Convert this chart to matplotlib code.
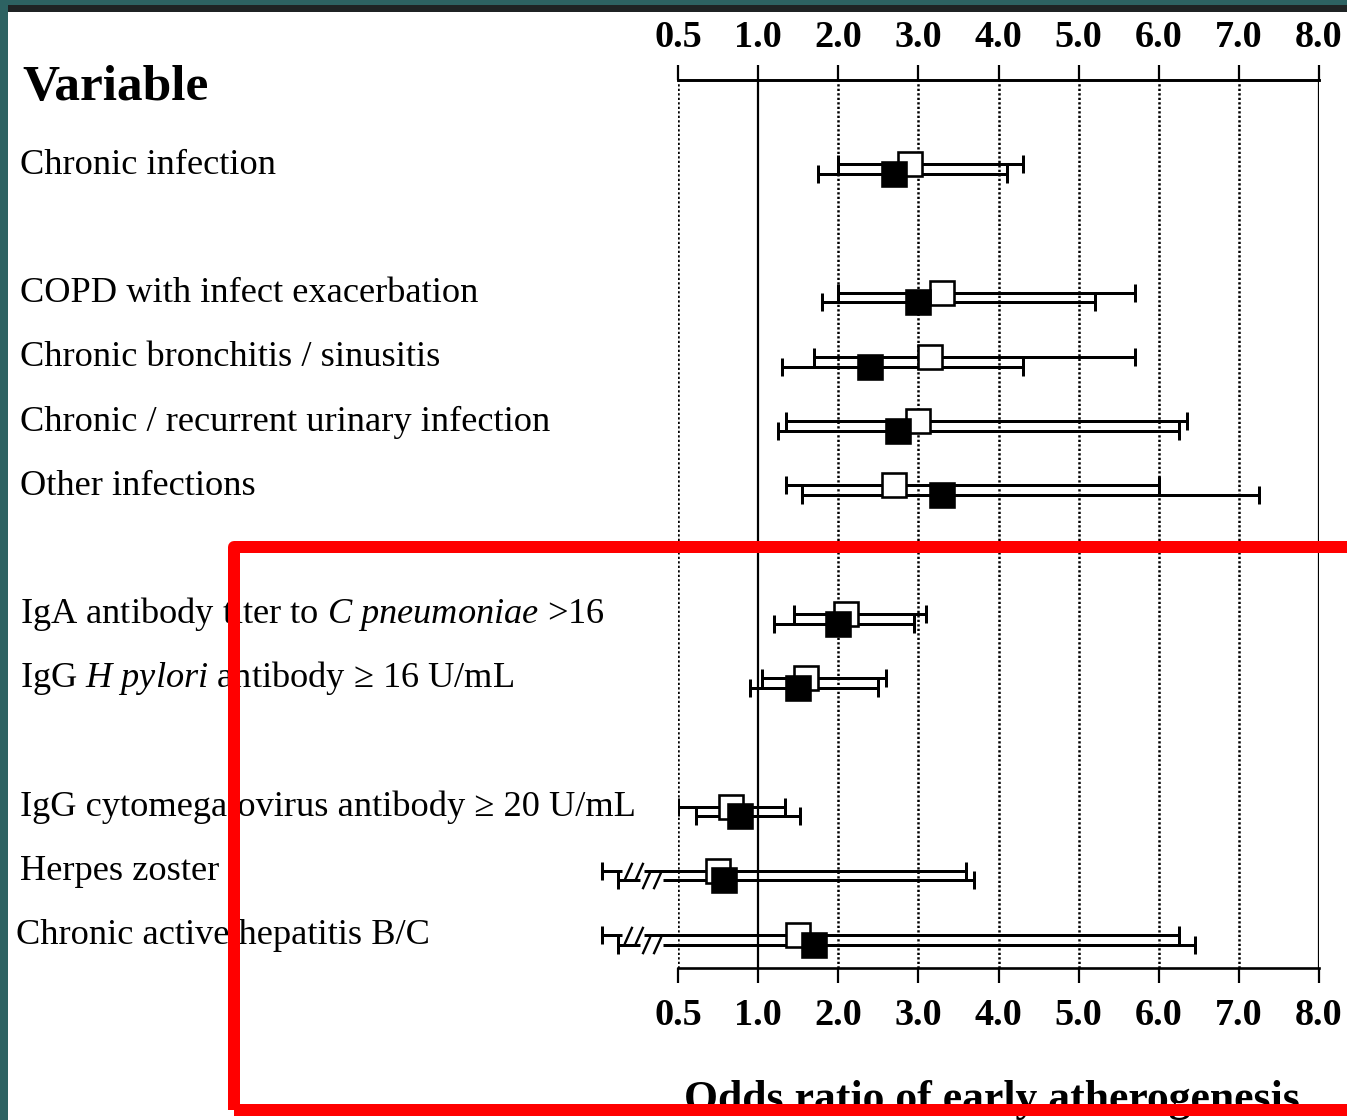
import numpy as np
import matplotlib
matplotlib.use("Agg")
import matplotlib.pyplot as plt
from matplotlib.patches import Rectangle
from matplotlib.transforms import blended_transform_factory

# ---------------------------------------------------------------- data
variables = [
    "Chronic infection",
    "COPD with infect exacerbation",
    "Chronic bronchitis / sinusitis",
    "Chronic / recurrent urinary infection",
    "Other infections",
    "IgA antibody titer to $\\mathit{C\\ pneumoniae}$ >16",
    "IgG $\\mathit{H\\ pylori}$ antibody \u2265 16 U/mL",
    "IgG cytomegalovirus antibody \u2265 20 U/mL",
    "Herpes zoster",
    "Chronic active hepatitis B/C",
]
# row slot of each variable (blank slots separate the groups)
row_slot = [0, 2, 3, 4, 5, 7, 8, 10, 11, 12]

# open squares: odds ratio with 95% CI (nan = lower limit below 0.5, axis broken)
open_or = [2.9, 3.3, 3.15, 3.0, 2.7, 2.1, 1.6, 0.83, 0.75, 1.5]
open_lo = [2.0, 2.0, 1.7, 1.35, 1.35, 1.45, 1.05, 0.5, np.nan, np.nan]
open_hi = [4.3, 5.7, 5.7, 6.35, 6.0, 3.1, 2.6, 1.33, 3.6, 6.25]

# filled squares: odds ratio with 95% CI
filled_or = [2.7, 3.0, 2.4, 2.75, 3.3, 2.0, 1.5, 0.89, 0.79, 1.7]
filled_lo = [1.75, 1.8, 1.3, 1.25, 1.55, 1.2, 0.95, 0.61, np.nan, np.nan]
filled_hi = [4.1, 5.2, 4.3, 6.25, 7.25, 2.95, 2.5, 1.52, 3.7, 6.45]

tick_values = [0.5, 1.0, 2.0, 3.0, 4.0, 5.0, 6.0, 7.0, 8.0]
tick_labels = ["0.5", "1.0", "2.0", "3.0", "4.0", "5.0", "6.0", "7.0", "8.0"]

# ---------------------------------------------------------------- style
W, H, DPI = 1347, 1120, 100
plt.rcParams["font.family"] = ["Liberation Serif", "DejaVu Serif"]
plt.rcParams["mathtext.fontset"] = "custom"
plt.rcParams["mathtext.rm"] = "Liberation Serif"
plt.rcParams["mathtext.it"] = "Liberation Serif:italic"

PT = 72.0 / DPI          # points per pixel
CI_LW = 3 * PT
CAP = 18 * PT
SQ = 24.5 * PT
SQ_EW = 2.6 * PT
TEAL = "#2d6262"
TICK_FS = 27.5


def fwd(v):
    v = np.asarray(v, dtype=float)
    return np.where(v >= 1, v, 2 * v - 1)


def inv(u):
    u = np.asarray(u, dtype=float)
    return np.where(u >= 1, u, (u + 1) / 2)


fig = plt.figure(figsize=(W / DPI, H / DPI), dpi=DPI, facecolor="white")

# plotting area in pixel terms
AX_L, AX_R, AX_T, AX_B = 678, 1319, 80, 968
ax = fig.add_axes([AX_L / W, 1 - AX_B / H, (AX_R - AX_L) / W, (AX_B - AX_T) / H])
ax.set_xscale("function", functions=(fwd, inv))
ax.set_xlim(0.5, 8.0)

ROW0, ROW_PX = 169.2, 64.22      # row spacing in pixels
ax.set_ylim((AX_B - ROW0) / ROW_PX, (AX_T - ROW0) / ROW_PX)
ax.set_facecolor("none")

rows = np.array(row_slot, dtype=float)
D = 4.85 / ROW_PX                # vertical offset of the two estimates

# vertical reference lines
for v in tick_values:
    if v in (1.0, 8.0):
        ax.axvline(v, color="black", lw=1.6, zorder=1)
    else:
        ax.axvline(v, color="black", lw=1.8, ls=(0, (0.9, 0.9)), zorder=1)

# bottom scale
for side in ("left", "right"):
    ax.spines[side].set_visible(False)
for side in ("top", "bottom"):
    ax.spines[side].set_linewidth(1.9)
ax.set_yticks([])
ax.set_xticks(tick_values, tick_labels)
ax.minorticks_off()
ax.tick_params(axis="x", which="major", top=False, bottom=True, labeltop=False,
               labelbottom=True, direction="out", length=15 * PT, width=1.6,
               labelsize=TICK_FS, pad=11)
for lbl in ax.get_xticklabels():
    lbl.set_fontweight("bold")

# top scale
axt = ax.twiny()
axt.set_xscale("function", functions=(fwd, inv))
axt.set_xlim(0.5, 8.0)
axt.set_xticks(tick_values, tick_labels)
axt.minorticks_off()
for side in ("left", "right", "bottom"):
    axt.spines[side].set_visible(False)
axt.spines["top"].set_linewidth(1.9)
axt.tick_params(axis="x", which="major", direction="out", length=15 * PT,
                width=1.6, labelsize=TICK_FS, pad=7)
for lbl in axt.get_xticklabels():
    lbl.set_fontweight("bold")

# axis-break geometry for truncated lower limits (in scale units)
STUB_U = {"open": -0.95, "filled": -0.75}
GAP_U = {"open": (-0.70, -0.42), "filled": (-0.47, -0.19)}
SLASH_U = {"open": (-0.63, -0.49), "filled": (-0.40, -0.26)}
slash = [(-0.45, -1.0), (0.45, 1.0)]


def draw_ci(lo, hi, y, kind):
    lo, hi = np.asarray(lo), np.asarray(hi)
    full = ~np.isnan(lo)
    ax.hlines(y[full], lo[full], hi[full], color="black", lw=CI_LW, zorder=2)
    ax.plot(lo[full], y[full], ls="none", marker="|", ms=CAP, mew=CI_LW,
            color="black", zorder=2)
    ax.plot(hi, y, ls="none", marker="|", ms=CAP, mew=CI_LW,
            color="black", zorder=2)
    # truncated intervals: stub cap, broken line, double slash
    stub = float(inv(STUB_U[kind]))
    g0, g1 = (float(inv(u)) for u in GAP_U[kind])
    s0, s1 = (float(inv(u)) for u in SLASH_U[kind])
    for yy, h in zip(y[~full], hi[~full]):
        ax.plot([stub, g0], [yy, yy], color="black", lw=CI_LW, clip_on=False,
                zorder=2, solid_capstyle="butt")
        ax.plot([g1, h], [yy, yy], color="black", lw=CI_LW, clip_on=False,
                zorder=2, solid_capstyle="butt")
        ax.plot([stub], [yy], ls="none", marker="|", ms=CAP, mew=CI_LW,
                color="black", clip_on=False, zorder=2)
        ax.plot([s0, s1], [yy, yy], ls="none", marker=slash, ms=12.5,
                mew=1.7, color="black", clip_on=False, zorder=2)


draw_ci(open_lo, open_hi, rows - D, "open")
draw_ci(filled_lo, filled_hi, rows + D, "filled")

ax.plot(open_or, rows - D, ls="none", marker="s", ms=SQ, mew=SQ_EW,
        mfc="white", mec="black", zorder=3, clip_on=False)
ax.plot(filled_or, rows + D, ls="none", marker="s", ms=SQ, mew=SQ_EW,
        mfc="black", mec="black", zorder=4, clip_on=False)

# row labels on the left
lab_tr = blended_transform_factory(fig.transFigure, ax.transData)
for name, r in zip(variables, rows):
    x0 = 16 if name.startswith("Chronic active") else 20
    fig.text(x0 / W, r + 4.5 / ROW_PX, name, transform=lab_tr, fontsize=26.2,
             va="baseline", ha="left")

fig.text(22 / W, 1 - 100 / H, "Variable", fontsize=37, fontweight="bold",
         va="baseline", ha="left")
fig.text(992 / W, 1 - 1111 / H, "Odds ratio of early atherogenesis",
         fontsize=31.5, fontweight="bold", va="baseline", ha="center")

# window frame and highlight box
fig.add_artist(Rectangle((0, 1 - 12 / H), 1, 12 / H, transform=fig.transFigure,
                         facecolor="#1f2324", edgecolor="none", zorder=10))
fig.add_artist(Rectangle((0, 1 - 5 / H), 1, 5 / H, transform=fig.transFigure,
                         facecolor=TEAL, edgecolor="none", zorder=11))
fig.add_artist(Rectangle((0, 0), 8 / W, 1, transform=fig.transFigure,
                         facecolor=TEAL, edgecolor="none", zorder=11))
fig.add_artist(Rectangle((234 / W, 1 - 1109.5 / H), (1400 - 234) / W,
                         (1109.5 - 547) / H, transform=fig.transFigure,
                         facecolor="none", edgecolor="#ff0000",
                         lw=12 * PT, joinstyle="round", zorder=12))

fig.savefig("out.png", dpi=DPI, facecolor="white")
